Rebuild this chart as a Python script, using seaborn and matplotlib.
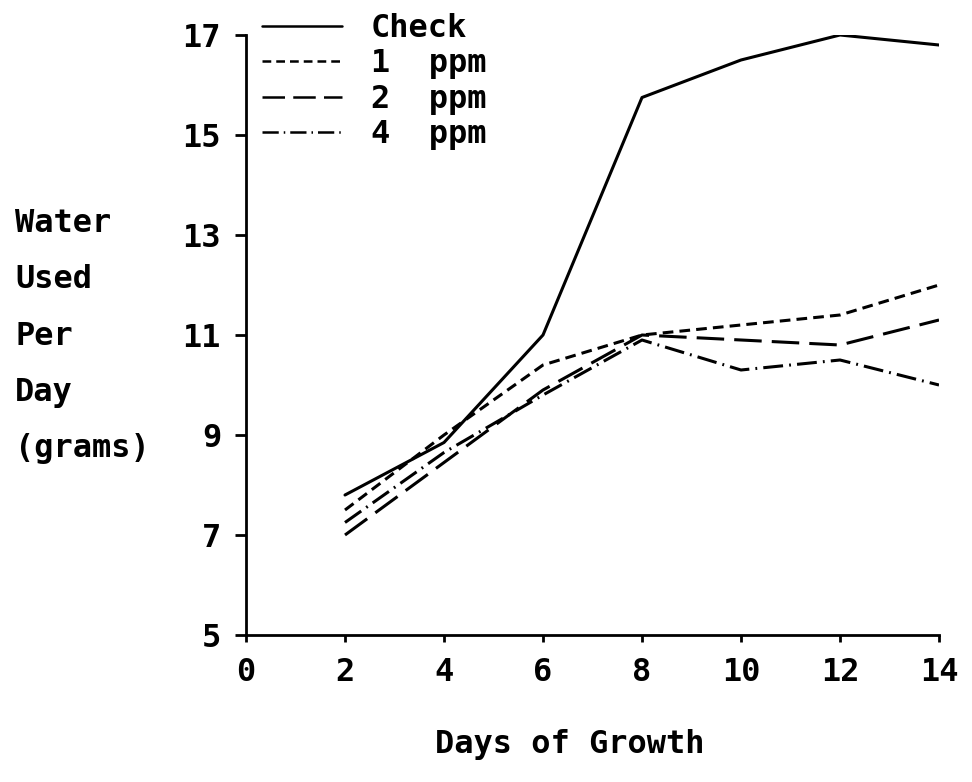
import matplotlib
matplotlib.use("Agg")
import matplotlib.pyplot as plt
import seaborn as sns
import pandas as pd

days = [2, 4, 6, 8, 10, 12, 14]
check = [7.8, 8.85, 11.0, 15.75, 16.5, 17.0, 16.8]
ppm1 = [7.5, 9.0, 10.4, 11.0, 11.2, 11.4, 12.0]
ppm2 = [7.0, 8.45, 9.9, 11.0, 10.9, 10.8, 11.3]
ppm4 = [7.25, 8.65, 9.8, 10.9, 10.3, 10.5, 10.0]
labels = ["Check", "1  ppm", "2  ppm", "4  ppm"]
xticks = [0, 2, 4, 6, 8, 10, 12, 14]
yticks = [5, 7, 9, 11, 13, 15, 17]

rows = []
for lab, vals in zip(labels, [check, ppm1, ppm2, ppm4]):
    for d, v in zip(days, vals):
        rows.append({"day": d, "water": v, "treatment": lab})
df = pd.DataFrame(rows)

sns.set_style("white")
plt.rcParams["font.family"] = ["DejaVu Sans Mono"]
plt.rcParams["font.weight"] = "bold"
plt.rcParams["text.color"] = "black"
plt.rcParams["xtick.color"] = "black"
plt.rcParams["ytick.color"] = "black"

fig = plt.figure(figsize=(9.72, 7.82), dpi=100)
ax = fig.add_axes([246/972, 1-635/782, (939-246)/972, (635-35)/782])

dashes = {"Check": "", "1  ppm": (3.5, 2), "2  ppm": (9, 3.3), "4  ppm": (6.5, 2, 0.6, 2)}
sns.lineplot(data=df, x="day", y="water", style="treatment", dashes=dashes,
             color="black", linewidth=2.2, ax=ax, legend=True)

ax.set_xlim(0, 14)
ax.set_ylim(5, 17)
ax.set_xticks(xticks)
ax.set_yticks(yticks)
ax.tick_params(axis="x", direction="out", length=5, width=2, pad=11, labelsize=23, bottom=True)
ax.tick_params(axis="y", direction="out", length=8, width=2, pad=10, labelsize=23, left=True)
for t in ax.get_xticklabels() + ax.get_yticklabels():
    t.set_fontweight("bold")
for s in ["top", "right"]:
    ax.spines[s].set_visible(False)
for s in ["left", "bottom"]:
    ax.spines[s].set_linewidth(2)
    ax.spines[s].set_color("black")
ax.set_xlabel("")
ax.set_ylabel("")

leg = ax.legend(loc="upper left", bbox_to_anchor=(262/972, 1-13/782),
                bbox_transform=fig.transFigure, frameon=False,
                prop={"size": 23, "weight": "bold"},
                handlelength=2.5, handletextpad=0.9, labelspacing=0.14,
                borderpad=0, borderaxespad=0, title=None)
for line in leg.get_lines():
    line.set_linewidth(1.8)

fig.text(15/972, 1-336/782, "Water\n\nUsed\n\nPer\n\nDay\n\n(grams)", fontsize=23,
         fontweight="bold", ha="left", va="center", linespacing=0.88)
fig.text(570/972, 1-745/782, "Days of Growth", fontsize=23, fontweight="bold",
         ha="center", va="center")

fig.savefig("out.png", dpi=100)
